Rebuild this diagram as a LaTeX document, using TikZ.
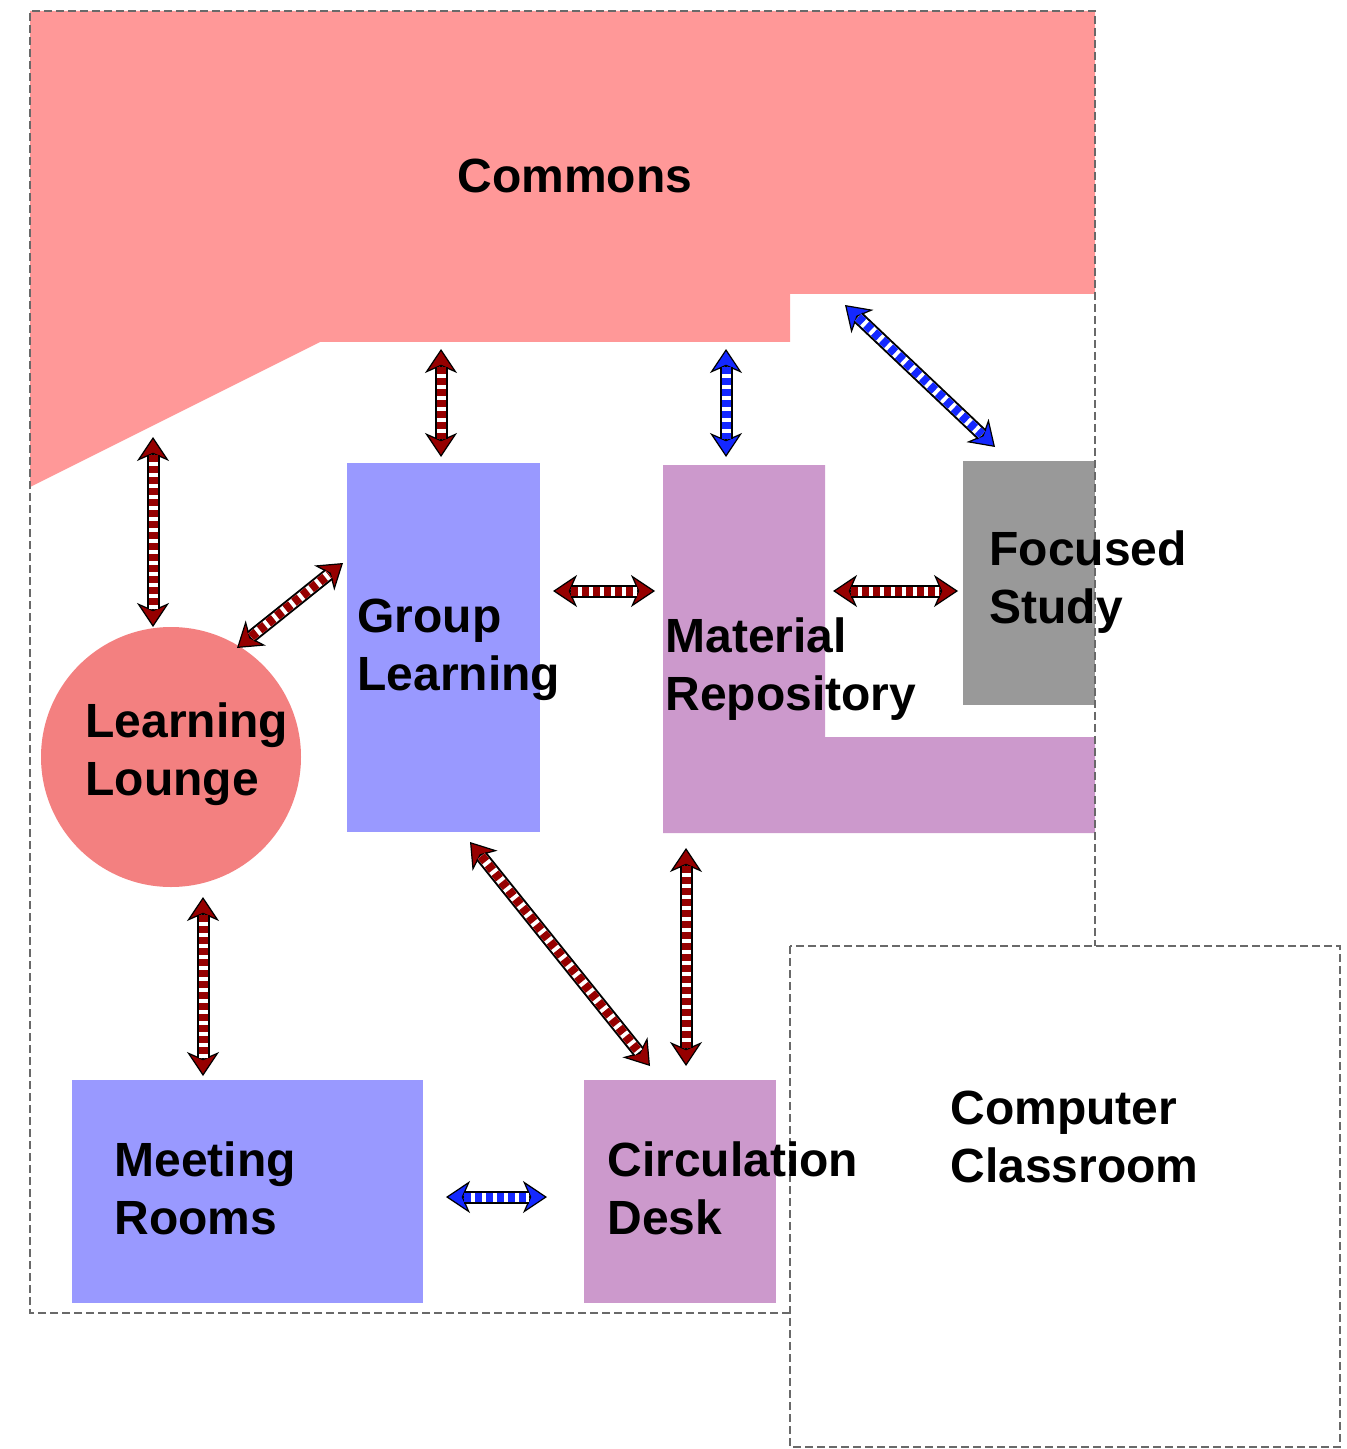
\documentclass[tikz,border=0pt]{standalone}
\usepackage{fontspec}
\setmainfont{Liberation Sans}
\usetikzlibrary{arrows.meta}

\definecolor{commonsred}{RGB}{255,152,152}
\definecolor{loungered}{RGB}{243,128,128}
\definecolor{roomblue}{RGB}{153,153,255}
\definecolor{roommauve}{RGB}{204,153,204}
\definecolor{studygray}{RGB}{153,153,153}
\definecolor{flowred}{RGB}{150,0,0}
\definecolor{flowblue}{RGB}{20,40,255}
\definecolor{wallgray}{RGB}{105,105,105}

% double-headed flow arrow: colour, start, end
\newcommand{\flowlink}[3]{%
  \draw[line width=0.6pt, black, {Stealth[length=12pt,width=16pt,inset=3.5pt,fill=#1]}-{Stealth[length=12pt,width=16pt,inset=3.5pt,fill=#1]}] (#2) -- (#3);
  \draw[line width=6.5pt, black, shorten <=9pt, shorten >=9pt] (#2) -- (#3);
  \draw[line width=4.5pt, white, shorten <=9pt, shorten >=9pt] (#2) -- (#3);
  \draw[line width=4.5pt, #1, dash pattern=on 3.5pt off 2pt, shorten <=9pt, shorten >=9pt] (#2) -- (#3);
}

\begin{document}
\begin{tikzpicture}[x=0.5pt,y=0.5pt,yscale=-1,xscale=1,
  label/.style={anchor=north west,inner sep=0pt,align=left,font=\fontsize{24}{29}\selectfont\bfseries},
  wall/.style={wallgray,line width=1.2pt,dash pattern=on 4pt off 2pt}]
\useasboundingbox (0,0) rectangle (1347,1449);

%Commons
\fill[commonsred] (30,11) -- (1095,11) -- (1095,294) -- (790,294) -- (790,342) -- (320,342) -- (30,487) -- cycle;
%Group Learning
\fill[roomblue] (347,463) rectangle (540,832);
%Material Repository
\fill[roommauve] (663,465) -- (825,465) -- (825,737) -- (1095,737) -- (1095,833) -- (663,833) -- cycle;
%Focused Study
\fill[studygray] (963,461) rectangle (1095,705);
%Learning Lounge
\fill[loungered] (171,757) circle [radius=130];
%Meeting Rooms
\fill[roomblue] (72,1080) rectangle (423,1303);
%Circulation Desk
\fill[roommauve] (584,1080) rectangle (776,1303);

%Walls
\draw[wall] (790,1313) -- (30,1313) -- (30,11) -- (1095,11) -- (1095,946);
\draw[wall] (790,946) rectangle (1340,1447);

% Text Node
\node[label,anchor=north] (commons) at (575,159) {Commons};
% Text Node
\node[label] (group) at (357,599) {Group\\Learning};
% Text Node
\node[label] (material) at (665,617) {Material\\Repository};
% Text Node
\node[label] (focused) at (989,530) {Focused\\Study};
% Text Node
\node[label] (lounge) at (85,702) {Learning\\Lounge};
% Text Node
\node[label] (meeting) at (114,1141) {Meeting\\Rooms};
% Text Node
\node[label] (circulation) at (607,1141) {Circulation\\Desk};
% Text Node
\node[label] (computer) at (950,1091) {Computer\\Classroom};

%Arrow ends
\coordinate (cg1) at (441,349);  \coordinate (cg2) at (441,457);
\coordinate (cm1) at (726,349);  \coordinate (cm2) at (726,457);
\coordinate (cf1) at (845,305);  \coordinate (cf2) at (995,447);
\coordinate (cl1) at (153,437);  \coordinate (cl2) at (153,627);
\coordinate (lg1) at (237,648);  \coordinate (lg2) at (343,563);
\coordinate (gm1) at (553,591);  \coordinate (gm2) at (655,591);
\coordinate (mf1) at (833,591);  \coordinate (mf2) at (958,591);
\coordinate (gc1) at (470,842);  \coordinate (gc2) at (650,1066);
\coordinate (mc1) at (686,848);  \coordinate (mc2) at (686,1066);
\coordinate (lm1) at (203,897);  \coordinate (lm2) at (203,1076);
\coordinate (mr1) at (446,1197); \coordinate (mr2) at (547,1197);

\flowlink{flowred}{cg1}{cg2}
\flowlink{flowblue}{cm1}{cm2}
\flowlink{flowblue}{cf1}{cf2}
\flowlink{flowred}{cl1}{cl2}
\flowlink{flowred}{lg1}{lg2}
\flowlink{flowred}{gm1}{gm2}
\flowlink{flowred}{mf1}{mf2}
\flowlink{flowred}{gc1}{gc2}
\flowlink{flowred}{mc1}{mc2}
\flowlink{flowred}{lm1}{lm2}
\flowlink{flowblue}{mr1}{mr2}

\end{tikzpicture}
\end{document}
